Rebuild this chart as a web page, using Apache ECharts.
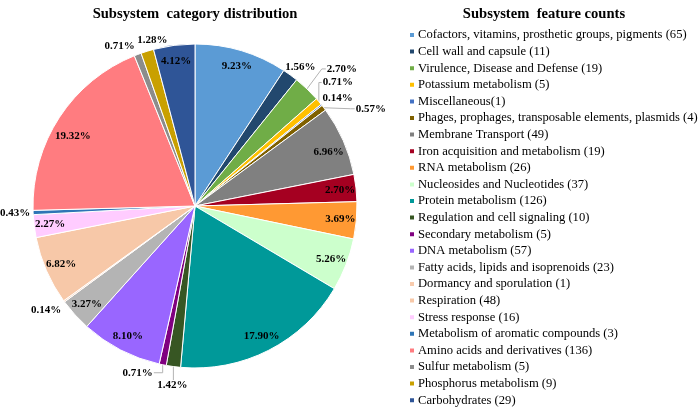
<!DOCTYPE html>
<html>
<head>
<meta charset="utf-8">
<script src="https://cdn.jsdelivr.net/npm/echarts@6/dist/echarts.min.js"></script>
<style>
  html, body { margin: 0; padding: 0; background: #fff; }
  #chart { width: 700px; height: 408px; }
</style>
</head>
<body>
<div id="chart"></div>
<script>
// subsystem categories (clockwise from 12 o'clock)
const categories = [
  'Cofactors, vitamins, prosthetic groups, pigments',
  'Cell wall and capsule',
  'Virulence, Disease and Defense',
  'Potassium metabolism',
  'Miscellaneous',
  'Phages, prophages, transposable elements, plasmids',
  'Membrane Transport',
  'Iron acquisition and metabolism',
  'RNA metabolism',
  'Nucleosides and Nucleotides',
  'Protein metabolism',
  'Regulation and cell signaling',
  'Secondary metabolism',
  'DNA metabolism',
  'Fatty acids, lipids and isoprenoids',
  'Dormancy and sporulation',
  'Respiration',
  'Stress response',
  'Metabolism of aromatic compounds',
  'Amino acids and derivatives',
  'Sulfur metabolism',
  'Phosphorus metabolism',
  'Carbohydrates'
]
const counts = [65, 11, 19, 5, 1, 4, 49, 19, 26, 37, 126, 10, 5, 57, 23, 1, 48, 16, 3, 136, 5, 9, 29]

const colors = [
  '#5b9bd5', '#22486e', '#70ad47', '#ffc000', '#4472c4', '#7f6000',
  '#808080', '#a50021', '#ff9933', '#ccffcc', '#009999', '#375623',
  '#800080', '#9966ff', '#b4b4b4', '#f8cbad', '#f7c8a8', '#ffccff',
  '#2e75b6', '#ff7c80', '#8c8c8c', '#c9a000', '#2f5597'
]

// labels written outside the pie: offset of label centre from the slice edge, leader line kind
const outsideLabels = {
  1: [10, -8, null],
  2: [35, -20, 'diag'],
  3: [19, -19, 'elbow'],
  4: [16, -7, null],
  5: [47, 1, 'diag'],
  11: [-1, 19, 'down'],
  12: [-25, 8, 'elbow'],
  15: [-18, 9, null],
  18: [-18, 1, null],
  20: [-18, -8, null],
  21: [5, -11, null]
}
// small nudges of inside labels
const insideNudge = { 6: [0, 5], 19: [0, 10] }

const total = counts.reduce((a, b) => a + b, 0)
const pct = v => (v / total * 100).toFixed(2) + '%'

const chart = echarts.init(document.getElementById('chart'))

const serif = '"Liberation Serif", "Times New Roman", serif'
const labelFont = { fontFamily: serif, fontWeight: 'bold', fontSize: 11, color: '#000' }

const mainData = categories.map((name, i) => ({
  name: name,
  value: counts[i],
  itemStyle: { color: colors[i] },
  label: { show: i in outsideLabels },
  labelLine: { show: i in outsideLabels }
}))

const overlayData = categories.map((name, i) => ({
  name: name,
  value: counts[i],
  label: { show: !(i in outsideLabels) }
}))

function outsideLayout(params) {
  const cfg = outsideLabels[params.dataIndex]
  if (!cfg || !params.labelLinePoints) return {}
  const edge = params.labelLinePoints[0]
  const cx = edge[0] + cfg[0]
  const cy = edge[1] + cfg[1]
  const w = params.labelRect.width
  const h = params.labelRect.height
  let pts = [edge, edge, edge]
  if (cfg[2] === 'down') {
    const end = [edge[0], cy - h / 2]
    pts = [edge, end, end]
  } else if (cfg[2]) {
    const right = cx > edge[0]
    const end = [right ? cx - w / 2 - 1 : cx + w / 2 + 1, cy]
    const elbow = cfg[2] === 'elbow' ? [edge[0], cy] : [end[0] + (right ? -4 : 4), cy]
    pts = [edge, elbow, end]
  }
  return { x: cx, y: cy, align: 'center', verticalAlign: 'middle', labelLinePoints: pts }
}

chart.setOption({
  animation: false,
  title: [
    {
      text: 'Subsystem  category distribution',
      left: 195,
      top: 7,
      padding: 0,
      textAlign: 'center',
      textStyle: { fontFamily: serif, fontWeight: 'bold', fontSize: 14.6, color: '#000' }
    },
    {
      text: 'Subsystem  feature counts',
      left: 544,
      top: 7,
      padding: 0,
      textAlign: 'center',
      textStyle: { fontFamily: serif, fontWeight: 'bold', fontSize: 14.6, color: '#000' }
    }
  ],
  legend: {
    orient: 'vertical',
    left: 408,
    top: 28.5,
    padding: 0,
    icon: 'rect',
    itemWidth: 6,
    itemHeight: 6,
    itemGap: 3.6,
    data: categories,
    formatter: name => {
      const i = categories.indexOf(name)
      return name + (name === 'Miscellaneous' ? '' : ' ') + '(' + counts[i] + ')'
    },
    textStyle: {
      fontFamily: serif,
      fontSize: 12.6,
      lineHeight: 13,
      color: '#000',
      padding: [0, 0, 0, -2]
    }
  },
  series: [
    {
      type: 'pie',
      center: [195, 206],
      radius: 162,
      startAngle: 90,
      clockwise: true,
      avoidLabelOverlap: false,
      itemStyle: { borderColor: '#fff', borderWidth: 1 },
      label: Object.assign({ position: 'outside', overflow: 'none', formatter: p => pct(p.value) }, labelFont),
      labelLine: { length: 6, length2: 4, lineStyle: { color: '#b3b3b3', width: 1 } },
      labelLayout: outsideLayout,
      data: mainData
    },
    {
      type: 'pie',
      center: [195, 206],
      radius: [124, 162],
      startAngle: 90,
      clockwise: true,
      silent: true,
      avoidLabelOverlap: false,
      itemStyle: { color: 'rgba(0,0,0,0)' },
      label: Object.assign({ position: 'inside', formatter: p => pct(p.value) }, labelFont),
      labelLine: { show: false },
      labelLayout: params => {
        const n = insideNudge[params.dataIndex]
        return n ? { dx: n[0], dy: n[1] } : {}
      },
      data: overlayData
    }
  ]
})
</script>
</body>
</html>
